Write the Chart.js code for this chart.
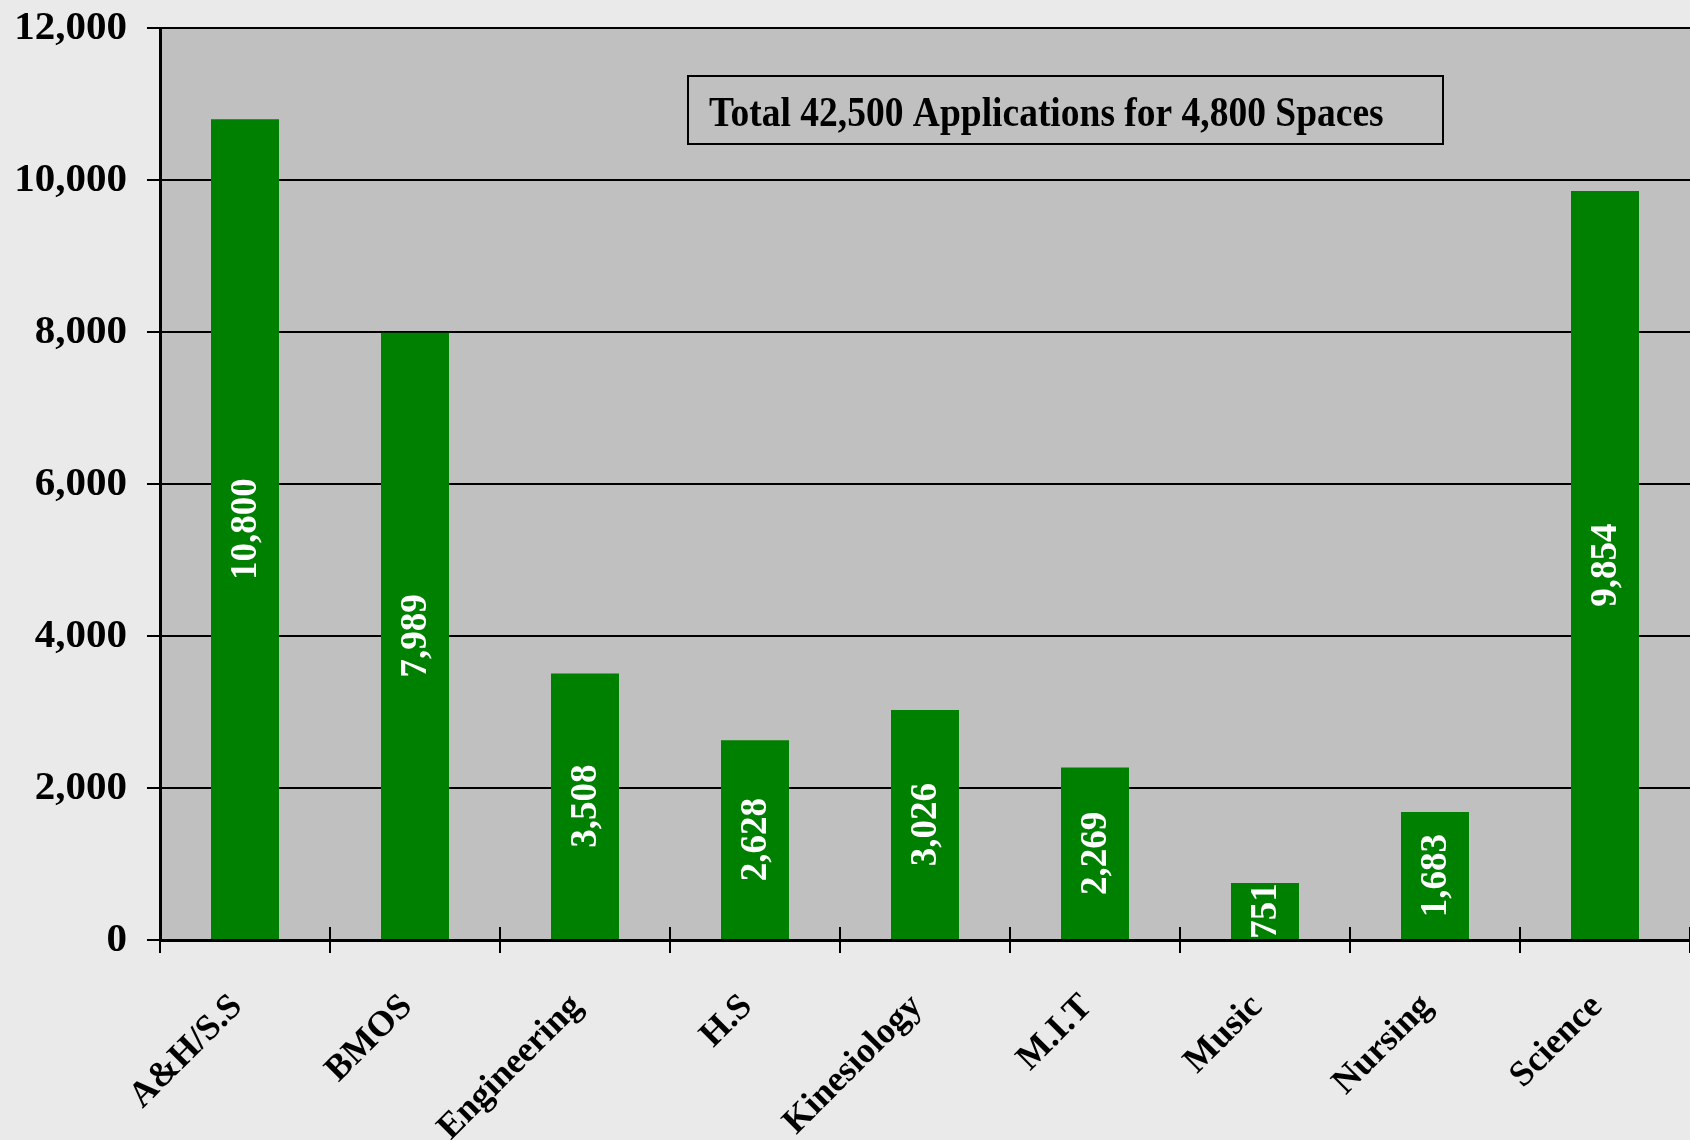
<!DOCTYPE html>
<html>
<head>
<meta charset="utf-8">
<script src="https://cdn.jsdelivr.net/npm/chart.js@4.4.1/dist/chart.umd.min.js"></script>
<style>
  html, body { margin: 0; padding: 0; background: #EAEAEA; }
  canvas { display: block; }
</style>
</head>
<body>
<canvas id="chart" width="1690" height="1140"></canvas>
<script>
// Données : candidatures par faculté
const categories = ["A&H/S.S", "BMOS", "Engineering", "H.S", "Kinesiology", "M.I.T", "Music", "Nursing", "Science"];
const applications = [10800, 7989, 3508, 2628, 3026, 2269, 751, 1683, 9854];
const yMin = 0;
const yMax = 12000;
const yStep = 2000;
const noteText = "Total 42,500 Applications for 4,800 Spaces";

// Couleurs
const PAGE_BG = "#EAEAEA";
const PLOT_BG = "#C0C0C0";
const BAR_GREEN = "#008000";
const INK = "#000000";
const SERIF = "'Liberation Serif', 'Times New Roman', serif";

// Fond gris de la zone de tracé
const plotBackground = {
  id: "plotBackground",
  beforeDraw(chart) {
    const { ctx, chartArea: a } = chart;
    ctx.save();
    ctx.fillStyle = PLOT_BG;
    ctx.fillRect(a.left, a.top, a.right - a.left, a.bottom - a.top);
    ctx.restore();
  }
};

// Valeurs écrites en blanc, verticalement, au milieu de chaque barre
const barLabels = {
  id: "barLabels",
  afterDatasetsDraw(chart) {
    const { ctx } = chart;
    const meta = chart.getDatasetMeta(0);
    ctx.save();
    ctx.fillStyle = "#FFFFFF";
    ctx.font = "bold 37px " + SERIF;
    ctx.textAlign = "center";
    ctx.textBaseline = "middle";
    meta.data.forEach((bar, i) => {
      const cy = (bar.y + bar.base) / 2;
      ctx.save();
      ctx.translate(bar.x + 1, cy);
      ctx.rotate(-Math.PI / 2);
      ctx.fillText(applications[i].toLocaleString("en-US"), 0, 0);
      ctx.restore();
    });
    ctx.restore();
  }
};

// Petits traits de graduation qui traversent l'axe horizontal
const crossTicks = {
  id: "crossTicks",
  afterDraw(chart) {
    const { ctx } = chart;
    const x = chart.scales.x;
    const n = categories.length;
    const step = (x.right - x.left) / n;
    ctx.save();
    ctx.strokeStyle = INK;
    ctx.lineWidth = 2;
    ctx.beginPath();
    for (let i = 0; i <= n; i++) {
      const px = Math.round(x.left + i * step);
      ctx.moveTo(px, x.top - 13);
      ctx.lineTo(px, x.top);
    }
    ctx.stroke();
    ctx.restore();
  }
};

// Encadré avec le total
const noteBox = {
  id: "noteBox",
  afterDraw(chart) {
    const { ctx } = chart;
    ctx.save();
    ctx.strokeStyle = INK;
    ctx.lineWidth = 2;
    ctx.strokeRect(688, 76, 755, 68);
    ctx.fillStyle = INK;
    ctx.font = "bold 37.5px " + SERIF;
    ctx.textAlign = "left";
    ctx.textBaseline = "alphabetic";
    ctx.translate(709, 126);
    ctx.scale(1, 1.12);
    ctx.fillText(noteText, 0, 0);
    ctx.restore();
  }
};

new Chart(document.getElementById("chart"), {
  type: "bar",
  data: {
    labels: categories,
    datasets: [
      {
        data: applications,
        backgroundColor: BAR_GREEN,
        borderWidth: 0,
        categoryPercentage: 0.8,
        barPercentage: 0.5
      }
    ]
  },
  options: {
    responsive: false,
    devicePixelRatio: 1,
    animation: false,
    layout: { padding: { top: 28, right: 0, left: 0, bottom: 0 } },
    scales: {
      x: {
        z: 1,
        offset: true,
        grid: {
          display: true,
          offset: true,
          drawOnChartArea: false,
          drawTicks: true,
          tickLength: 13,
          color: INK,
          lineWidth: 2
        },
        border: { display: true, color: INK, width: 3 },
        ticks: {
          color: INK,
          maxRotation: 45,
          minRotation: 45,
          padding: 33,
          labelOffset: -8,
          autoSkip: false,
          font: { family: SERIF, size: 36, weight: "bold" }
        },
        afterFit(s) {
          s.height = 200;
          s.paddingLeft = 0;
          s.paddingRight = 0;
        }
      },
      y: {
        min: yMin,
        max: yMax,
        grid: {
          color: INK,
          lineWidth: 2,
          drawTicks: true,
          tickLength: 13,
          tickColor: INK
        },
        border: { display: true, color: INK, width: 3 },
        ticks: {
          stepSize: yStep,
          color: INK,
          padding: 20,
          font: { family: SERIF, size: 41, weight: "bold" },
          callback: (v) => v.toLocaleString("en-US")
        },
        afterFit(s) {
          s.width = 160;
          s.paddingTop = 0;
          s.paddingBottom = 0;
        }
      }
    },
    plugins: {
      legend: { display: false },
      tooltip: { enabled: false }
    }
  },
  plugins: [plotBackground, barLabels, crossTicks, noteBox]
});
</script>
</body>
</html>
